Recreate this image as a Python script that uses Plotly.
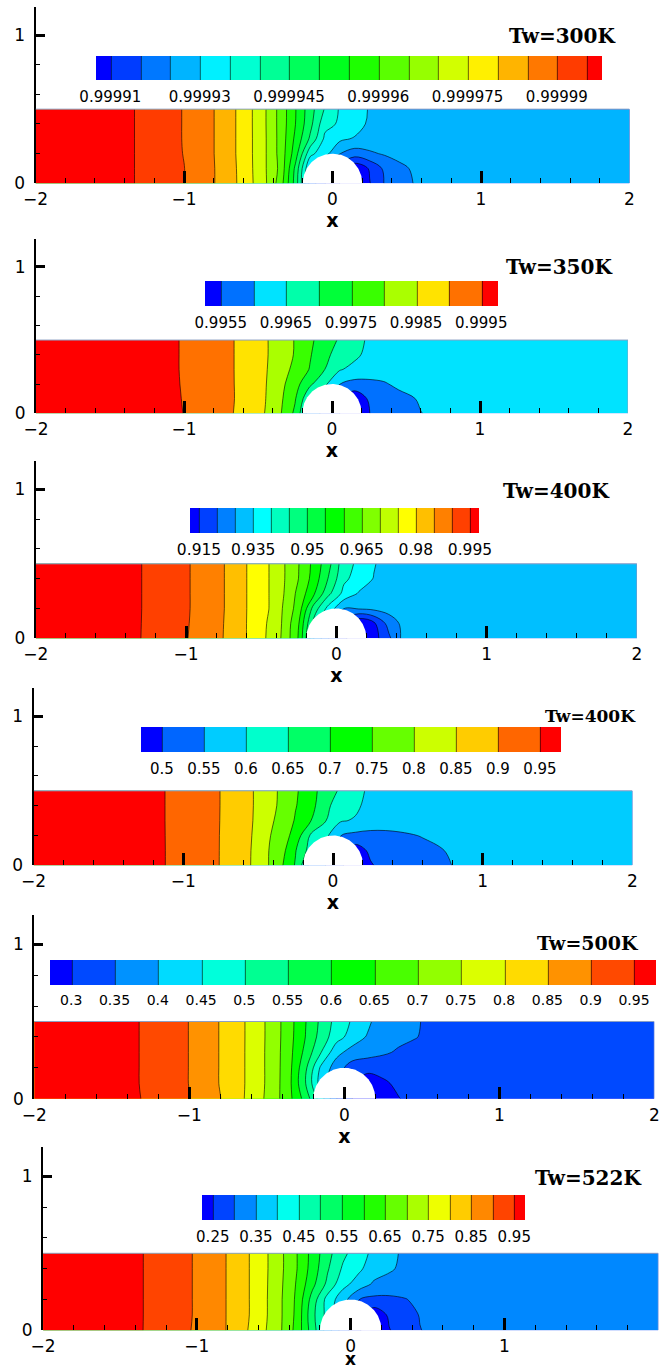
import numpy as np
import plotly.graph_objects as go

# ---------------- data ----------------
X_COLS = [-2.0, -1.5, -1.2, -1.0, -0.8, -0.6, -0.45, -0.35, -0.25, -0.15, -0.05,
          0.05, 0.15, 0.25, 0.35, 0.45, 0.6, 0.8, 1.0, 1.5, 2.0]
Y_ROWS = [0.0, 0.1, 0.2, 0.3, 0.4, 0.5]
CYL_R = 0.2

Z_300K = [
    [1.0, 0.9999975, 0.999993, 0.9999901, 0.99998525, 0.9999785, 0.9999705, 0.9999625, 0.999948, 0.999928, 0.9999201,
     0.9999149, 0.999909, 0.99991475, 0.99992025, 0.999923, 0.99992625, 0.99992725, 0.9999275, 0.9999275, 0.9999275],
    [1.0, 0.9999975, 0.999993, 0.9999901, 0.99998525, 0.9999784, 0.99997025, 0.9999637, 0.9999489, 0.9999294, 0.9999225,
     0.9999175, 0.999911, 0.9999155, 0.999921, 0.9999235, 0.999927, 0.9999275, 0.9999275, 0.9999275, 0.9999275],
    [1.0, 0.9999975, 0.999993, 0.99998985, 0.9999851, 0.99997825, 0.99997025, 0.99996325, 0.9999524, 0.9999364, 0.99993175,
     0.9999251, 0.9999225, 0.99992425, 0.9999255, 0.999927, 0.9999275, 0.9999275, 0.9999275, 0.9999275, 0.9999275],
    [1.0, 0.9999975, 0.999993, 0.99998975, 0.9999851, 0.99997825, 0.99997025, 0.99996325, 0.99995395, 0.9999441, 0.99993385,
     0.999931, 0.9999295, 0.999928, 0.9999275, 0.9999275, 0.9999275, 0.9999275, 0.9999275, 0.9999275, 0.9999275],
    [1.0, 0.9999975, 0.999993, 0.99998975, 0.9999851, 0.99997825, 0.99997015, 0.9999632, 0.9999551, 0.9999465, 0.9999365,
     0.99993435, 0.9999325, 0.999929, 0.9999275, 0.9999275, 0.9999275, 0.9999275, 0.9999275, 0.9999275, 0.9999275],
    [1.0, 0.9999975, 0.999993, 0.99998975, 0.9999851, 0.99997825, 0.99997015, 0.9999632, 0.9999553, 0.99994715, 0.9999395,
     0.99993445, 0.999933, 0.9999295, 0.9999275, 0.9999275, 0.9999275, 0.9999275, 0.9999275, 0.9999275, 0.9999275],
]
Z_350K = [
    [0.9998, 0.9998, 0.99975, 0.99949, 0.99925, 0.998875, 0.998485, 0.99805, 0.9974, 0.996225, 0.9959,
     0.99551, 0.995, 0.99549, 0.995675, 0.9958, 0.99599, 0.996175, 0.99625, 0.99625, 0.99625],
    [0.9998, 0.9998, 0.99975, 0.999475, 0.99924, 0.9989, 0.99851, 0.9981, 0.99755, 0.99655, 0.9961,
     0.99565, 0.9951, 0.99557, 0.995725, 0.99585, 0.99605, 0.996225, 0.99625, 0.99625, 0.99625],
    [0.9998, 0.9998, 0.99975, 0.99946, 0.99923, 0.9989, 0.998525, 0.99815, 0.9977, 0.9971, 0.9966,
     0.99601, 0.99585, 0.995875, 0.99595, 0.9961, 0.996225, 0.99625, 0.99625, 0.99625, 0.99625],
    [0.9998, 0.9998, 0.99975, 0.99945, 0.999225, 0.9989, 0.99854, 0.998225, 0.997875, 0.997475, 0.99701,
     0.99655, 0.99635, 0.996275, 0.99625, 0.99625, 0.99625, 0.99625, 0.99625, 0.99625, 0.99625],
    [0.9998, 0.9998, 0.99975, 0.99945, 0.999225, 0.9989, 0.99855, 0.998275, 0.997965, 0.99755, 0.9971,
     0.99685, 0.996625, 0.99635, 0.99625, 0.99625, 0.99625, 0.99625, 0.99625, 0.99625, 0.99625],
    [0.9998, 0.9998, 0.99975, 0.99945, 0.999225, 0.9989, 0.99855, 0.998275, 0.997975, 0.9976, 0.99725,
     0.99695, 0.99675, 0.9964, 0.99625, 0.99625, 0.99625, 0.99625, 0.99625, 0.99625, 0.99625],
]
Z_400K_A = [
    [0.998, 0.9975, 0.99375, 0.99025, 0.9865, 0.9801, 0.97425, 0.969, 0.9595, 0.9401, 0.9301,
     0.9215, 0.914, 0.918, 0.924, 0.93175, 0.9325, 0.9325, 0.9325, 0.9325, 0.9325],
    [0.998, 0.9975, 0.9938, 0.9904, 0.98665, 0.9801, 0.9745, 0.96925, 0.9601, 0.94335, 0.9325,
     0.9225, 0.915, 0.919, 0.927, 0.9315, 0.9325, 0.9325, 0.9325, 0.9325, 0.9325],
    [0.998, 0.9975, 0.99385, 0.9905, 0.98685, 0.98015, 0.9751, 0.9695, 0.9626, 0.948, 0.938,
     0.9301, 0.9305, 0.93125, 0.932, 0.9325, 0.9325, 0.9325, 0.9325, 0.9325, 0.9325],
    [0.998, 0.9975, 0.99385, 0.9905, 0.98685, 0.98015, 0.9751, 0.9701, 0.9635, 0.95575, 0.946,
     0.9385, 0.9345, 0.93275, 0.9325, 0.9325, 0.9325, 0.9325, 0.9325, 0.9325, 0.9325],
    [0.998, 0.9975, 0.99385, 0.9905, 0.98685, 0.98015, 0.9751, 0.9704, 0.9649, 0.958, 0.9495,
     0.941, 0.938, 0.93475, 0.9325, 0.9325, 0.9325, 0.9325, 0.9325, 0.9325, 0.9325],
    [0.998, 0.9975, 0.99385, 0.9905, 0.98685, 0.98015, 0.9751, 0.9704, 0.9651, 0.9586, 0.9514,
     0.94205, 0.9389, 0.9354, 0.9325, 0.9325, 0.9325, 0.9325, 0.9325, 0.9325, 0.9325],
]
Z_400K_B = [
    [0.98, 0.9775, 0.965, 0.9275, 0.9075, 0.87, 0.81, 0.76, 0.695, 0.5825, 0.5505,
     0.51, 0.46, 0.495, 0.5175, 0.5275, 0.5375, 0.5505, 0.5675, 0.575, 0.575],
    [0.98, 0.9775, 0.965, 0.9275, 0.907, 0.8725, 0.8075, 0.7725, 0.7025, 0.63, 0.59,
     0.54, 0.475, 0.51, 0.52, 0.5275, 0.5375, 0.555, 0.57, 0.575, 0.575],
    [0.98, 0.9775, 0.965, 0.927, 0.9065, 0.875, 0.81, 0.78, 0.73, 0.6445, 0.6125,
     0.5505, 0.5375, 0.535, 0.5375, 0.5425, 0.5525, 0.5675, 0.575, 0.575, 0.575],
    [0.98, 0.9775, 0.965, 0.9265, 0.906, 0.8785, 0.8125, 0.79, 0.745, 0.7025, 0.6525,
     0.605, 0.595, 0.58, 0.575, 0.575, 0.575, 0.575, 0.575, 0.575, 0.575],
    [0.98, 0.9775, 0.965, 0.9265, 0.906, 0.8795, 0.8145, 0.795, 0.7525, 0.72, 0.66,
     0.63, 0.61, 0.5825, 0.575, 0.575, 0.575, 0.575, 0.575, 0.575, 0.575],
    [0.98, 0.9775, 0.965, 0.9265, 0.906, 0.8795, 0.8145, 0.796, 0.755, 0.727, 0.667,
     0.6455, 0.62, 0.5875, 0.575, 0.575, 0.575, 0.575, 0.575, 0.575, 0.575],
]
Z_500K = [
    [0.98, 0.975, 0.935, 0.901, 0.851, 0.785, 0.72, 0.66, 0.58, 0.473, 0.351,
     0.301, 0.25, 0.275, 0.2975, 0.32, 0.325, 0.325, 0.325, 0.325, 0.325],
    [0.98, 0.975, 0.9325, 0.899, 0.8475, 0.7875, 0.7225, 0.6575, 0.551, 0.425, 0.36,
     0.31, 0.265, 0.29, 0.3125, 0.3225, 0.325, 0.325, 0.325, 0.325, 0.325],
    [0.98, 0.975, 0.9325, 0.899, 0.8475, 0.7875, 0.7225, 0.66, 0.56, 0.44, 0.3735,
     0.3265, 0.32, 0.3225, 0.325, 0.325, 0.325, 0.325, 0.325, 0.325, 0.325],
    [0.98, 0.975, 0.9325, 0.899, 0.8475, 0.7875, 0.7225, 0.6625, 0.585, 0.501, 0.415,
     0.38, 0.3675, 0.356, 0.345, 0.3375, 0.33, 0.325, 0.325, 0.325, 0.325],
    [0.98, 0.975, 0.9325, 0.899, 0.8475, 0.78775, 0.7235, 0.665, 0.599, 0.53, 0.47,
     0.43, 0.395, 0.3675, 0.36, 0.3525, 0.3375, 0.3275, 0.325, 0.325, 0.325],
    [0.98, 0.975, 0.9325, 0.899, 0.8475, 0.78775, 0.7235, 0.666, 0.602, 0.5385, 0.482,
     0.445, 0.4125, 0.3645, 0.36, 0.354, 0.34, 0.3275, 0.325, 0.325, 0.325],
]
Z_522K = [
    [0.98, 0.975, 0.925, 0.894, 0.8475, 0.775, 0.701, 0.6325, 0.525, 0.425, 0.325,
     0.26, 0.2, 0.2475, 0.275, 0.2985, 0.3175, 0.325, 0.325, 0.325, 0.325],
    [0.98, 0.975, 0.9255, 0.8955, 0.8475, 0.78, 0.7025, 0.6375, 0.515, 0.4315, 0.3525,
     0.28, 0.215, 0.2575, 0.2775, 0.3025, 0.32, 0.325, 0.325, 0.325, 0.325],
    [0.98, 0.975, 0.9255, 0.8955, 0.8475, 0.78, 0.7025, 0.64, 0.53, 0.43, 0.37,
     0.301, 0.2875, 0.29, 0.2975, 0.31, 0.3225, 0.325, 0.325, 0.325, 0.325],
    [0.98, 0.975, 0.9255, 0.8955, 0.8475, 0.78, 0.705, 0.645, 0.565, 0.4875, 0.415,
     0.38, 0.3425, 0.33, 0.325, 0.325, 0.325, 0.325, 0.325, 0.325, 0.325],
    [0.98, 0.975, 0.9255, 0.8955, 0.8475, 0.78, 0.7075, 0.651, 0.58, 0.505, 0.4425,
     0.41, 0.375, 0.3575, 0.3375, 0.325, 0.325, 0.325, 0.325, 0.325, 0.325],
    [0.98, 0.975, 0.9255, 0.8955, 0.8475, 0.78, 0.7075, 0.651, 0.5835, 0.5165, 0.4615,
     0.423, 0.3875, 0.365, 0.34, 0.325, 0.325, 0.325, 0.325, 0.325, 0.325],
]

LEVELS_300K = (0.999915, 0.999995, 0.000005)
LEVELS_350K = (0.9955, 0.9995, 0.0005)
LEVELS_400K_A = (0.92, 0.995, 0.005)
LEVELS_400K_B = (0.5, 0.95, 0.05)
LEVELS_500K = (0.3, 0.95, 0.05)
LEVELS_522K = (0.25, 0.95, 0.05)

TICKVALS_300K = [0.999915, 0.99993, 0.999945, 0.99996, 0.999975, 0.99999]
TICKTEXT_300K = ["0.99991", "0.99993", "0.999945", "0.99996", "0.999975", "0.99999"]
TICKVALS_350K = [0.9955, 0.9965, 0.9975, 0.9985, 0.9995]
TICKTEXT_350K = ["0.9955", "0.9965", "0.9975", "0.9985", "0.9995"]
TICKVALS_400K_A = [0.92, 0.935, 0.95, 0.965, 0.98, 0.995]
TICKTEXT_400K_A = ["0.915", "0.935", "0.95", "0.965", "0.98", "0.995"]
TICKVALS_400K_B = [0.5, 0.55, 0.6, 0.65, 0.7, 0.75, 0.8, 0.85, 0.9, 0.95]
TICKTEXT_400K_B = ["0.5", "0.55", "0.6", "0.65", "0.7", "0.75", "0.8", "0.85", "0.9", "0.95"]
TICKVALS_500K = [0.3, 0.35, 0.4, 0.45, 0.5, 0.55, 0.6, 0.65, 0.7, 0.75, 0.8, 0.85, 0.9, 0.95]
TICKTEXT_500K = ["0.3", "0.35", "0.4", "0.45", "0.5", "0.55", "0.6", "0.65", "0.7", "0.75", "0.8", "0.85", "0.9", "0.95"]
TICKVALS_522K = [0.25, 0.35, 0.45, 0.55, 0.65, 0.75, 0.85, 0.95]
TICKTEXT_522K = ["0.25", "0.35", "0.45", "0.55", "0.65", "0.75", "0.85", "0.95"]

LABELS = ["Tw=300K", "Tw=350K", "Tw=400K", "Tw=400K", "Tw=500K", "Tw=522K"]

PANELS = [
    (Z_300K, LEVELS_300K, TICKVALS_300K, TICKTEXT_300K),
    (Z_350K, LEVELS_350K, TICKVALS_350K, TICKTEXT_350K),
    (Z_400K_A, LEVELS_400K_A, TICKVALS_400K_A, TICKTEXT_400K_A),
    (Z_400K_B, LEVELS_400K_B, TICKVALS_400K_B, TICKTEXT_400K_B),
    (Z_500K, LEVELS_500K, TICKVALS_500K, TICKTEXT_500K),
    (Z_522K, LEVELS_522K, TICKVALS_522K, TICKTEXT_522K),
]

# ---------------- layout / styling (pixel geometry) ----------------
W, H = 662, 1367
YMAX = 1.19
GEOM = [
    dict(x0=332.5, ux=148.5, y0=183.3, uy=148.3, cb=(95.5, 601.6, 56.0, 24), cbf=15, lab=(562, 36), lf=20),
    dict(x0=332.0, ux=148.0, y0=413.3, uy=146.5, cb=(204.5, 497.2, 281.3, 25), cbf=15, lab=(559, 267), lf=20),
    dict(x0=336.3, ux=150.3, y0=638.3, uy=149.0, cb=(190.0, 478.6, 508.3, 25), cbf=15.5, lab=(556, 491), lf=20),
    dict(x0=333.0, ux=149.7, y0=865.3, uy=149.0, cb=(140.9, 561.3, 727.3, 25), cbf=15, lab=(590, 716), lf=17),
    dict(x0=344.3, ux=155.0, y0=1098.7, uy=154.4, cb=(49.6, 655.9, 960.0, 25), cbf=14, lab=(588, 943), lf=19),
    dict(x0=350.7, ux=153.8, y0=1330.3, uy=154.0, cb=(202.0, 524.8, 1195.3, 25), cbf=15, lab=(588, 1178), lf=20),
]
RAINBOW = [[0.0, "rgb(0,0,255)"], [0.25, "rgb(0,255,255)"], [0.5, "rgb(0,255,0)"],
           [0.75, "rgb(255,255,0)"], [1.0, "rgb(255,0,0)"]]
SANS = "DejaVu Sans"

fig = go.Figure()
theta = np.linspace(0, np.pi, 121)

for i, ((z, lev, tv, tt), g) in enumerate(zip(PANELS, GEOM)):
    n = i + 1
    last = (n == len(PANELS))
    sfx = "" if n == 1 else str(n)
    xr, yr = "x" + sfx, "y" + sfx
    start, end, size = lev
    cl, cr, ct, cth = g["cb"]
    fig.add_trace(go.Contour(
        x=X_COLS, y=Y_ROWS, z=z, xaxis=xr, yaxis=yr,
        autocontour=False,
        contours=dict(start=start, end=end, size=size, coloring="fill", showlines=True),
        line=dict(color="rgba(0,0,0,0.85)", width=0.7, smoothing=1.0),
        colorscale=RAINBOW,
        colorbar=dict(orientation="h", x=cl / W, xanchor="left", y=1 - ct / H, yanchor="top",
                      len=cr - cl, lenmode="pixels", thickness=cth, thicknessmode="pixels",
                      xpad=0, ypad=0, outlinewidth=0, tickmode="array", tickvals=tv, ticktext=tt,
                      ticks="outside", ticklen=4, tickcolor="rgba(0,0,0,0)",
                      tickfont=dict(family=SANS, size=g["cbf"], color="black")),
        hoverinfo="skip",
    ))
    # cylinder body (white)
    fig.add_trace(go.Scatter(x=CYL_R * np.cos(theta), y=CYL_R * np.sin(theta), xaxis=xr, yaxis=yr,
                             mode="lines", fill="toself", fillcolor="white",
                             line=dict(width=0, color="white"), hoverinfo="skip", showlegend=False))

    left = g["x0"] - 2 * g["ux"]
    right = g["x0"] + 2 * g["ux"]
    bottom = g["y0"]
    top = g["y0"] - YMAX * g["uy"]
    xtitle = "" if last else "<b>x</b>"
    fig.update_layout({
        "xaxis" + sfx: dict(domain=[left / W, right / W], range=[-2, 2], anchor=yr,
                            showgrid=False, zeroline=False, showline=False,
                            tickmode="array", tickvals=[-2, -1, 0, 1, 2],
                            ticks="inside", ticklen=12, tickwidth=2.5, tickcolor="black",
                            minor=dict(ticks="inside", ticklen=5, tickwidth=1, tickcolor="black",
                                       dtick=0.2, tick0=0, showgrid=False),
                            tickfont=dict(family=SANS, size=17, color="black"),
                            ticklabelstandoff=4,
                            title=dict(text=xtitle, font=dict(family=SANS, size=19, color="black"), standoff=2)),
        "yaxis" + sfx: dict(domain=[1 - bottom / H, 1 - top / H], range=[0, YMAX], anchor=xr,
                            showgrid=False, zeroline=False, showline=True, linecolor="black", linewidth=2,
                            tickmode="array", tickvals=[0, 1],
                            ticks="inside", ticklen=9, tickwidth=2.5, tickcolor="black",
                            minor=dict(ticks="inside", ticklen=4, tickwidth=1, tickcolor="black",
                                       dtick=0.2, tick0=0, showgrid=False),
                            tickfont=dict(family=SANS, size=17, color="black"),
                            ticklabelstandoff=5),
    })
    if last:
        # bottom panel: axis title sits at the very bottom edge of the page
        fig.add_annotation(x=g["x0"] / W, y=0, xref="paper", yref="paper", text="<b>x</b>",
                           showarrow=False, xanchor="center", yanchor="bottom", yshift=-4,
                           font=dict(family=SANS, size=17, color="black"))
    fig.add_shape(type="path", path="M -2,0.5 L 2,0.5 L 2,0", xref=xr, yref=yr,
                  line=dict(color="rgb(140,160,195)", width=1), layer="above")
    lx, ly = g["lab"]
    fig.add_annotation(x=lx / W, y=1 - ly / H, xref="paper", yref="paper", text="<b>" + LABELS[i] + "</b>",
                       showarrow=False, xanchor="center", yanchor="middle",
                       font=dict(family="DejaVu Serif", size=g["lf"], color="black"))

fig.update_layout(width=W, height=H, margin=dict(l=0, r=0, t=0, b=0, autoexpand=False),
                  paper_bgcolor="white", plot_bgcolor="white", showlegend=False)
fig.write_html("out.html", config={"displayModeBar": False},
               post_script="document.body.style.margin='0px';document.body.style.overflow='hidden';")
